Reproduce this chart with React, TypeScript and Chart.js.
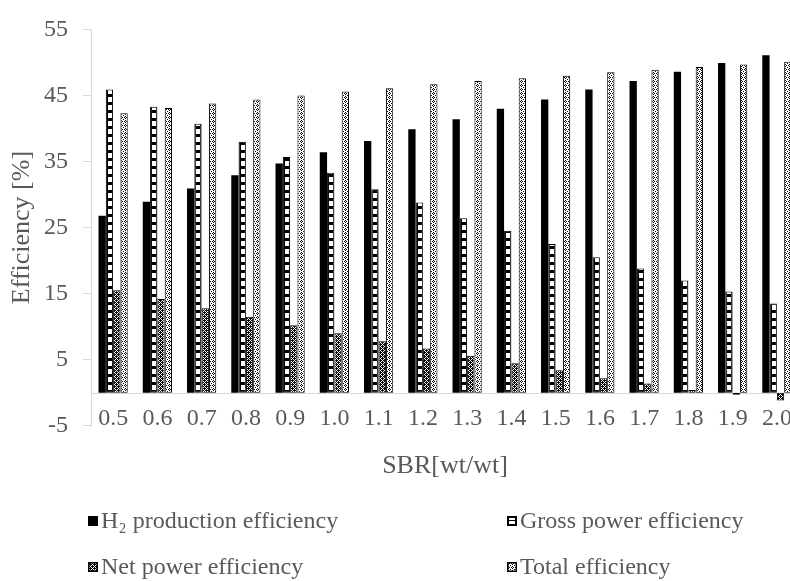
import React, { useEffect, useRef } from "react";
import { Chart, registerables } from "chart.js";

Chart.register(...registerables);

const categories = ["0.5", "0.6", "0.7", "0.8", "0.9", "1.0", "1.1", "1.2", "1.3", "1.4", "1.5", "1.6", "1.7", "1.8", "1.9", "2.0"];
const h2Production = [26.8, 28.9, 30.9, 32.9, 34.7, 36.4, 38.1, 39.9, 41.4, 43.0, 44.4, 45.9, 47.2, 48.6, 49.9, 51.1];
const grossPower = [45.9, 43.3, 40.7, 38.0, 35.7, 33.3, 30.8, 28.8, 26.4, 24.5, 22.5, 20.5, 18.8, 17.0, 15.3, 13.5];
const netPower = [15.5, 14.2, 12.8, 11.5, 10.2, 9.0, 7.8, 6.7, 5.6, 4.45, 3.4, 2.2, 1.4, 0.4, -0.3, -1.2];
const totalEff = [42.3, 43.1, 43.8, 44.4, 45.0, 45.6, 46.1, 46.7, 47.2, 47.6, 48.0, 48.5, 48.9, 49.3, 49.7, 50.1];
const seriesNames = ["H\u2082 production efficiency", "Gross power efficiency", "Net power efficiency", "Total efficiency"];
const yMin = -5;
const yMax = 55;
const yStep = 10;
const xTitle = "SBR[wt/wt]";
const yTitle = "Efficiency [%]";

const FONT = "'Liberation Serif', 'Times New Roman', serif";
const TEXT = "#595959";
const AXIS = "#d9d9d9";
const CAT_PCT = 0.66;

function makeTile(w: number, h: number, rows: string[] | null, draw?: (g: CanvasRenderingContext2D) => void) {
  const c = document.createElement("canvas");
  c.width = w;
  c.height = h;
  const g = c.getContext("2d")!;
  g.fillStyle = "#fff";
  g.fillRect(0, 0, w, h);
  if (rows) {
    g.fillStyle = "#000";
    rows.forEach((r, y) => {
      for (let x = 0; x < r.length; x++) if (r[x] === "X") g.fillRect(x, y, 1, 1);
    });
  }
  if (draw) draw(g);
  return c;
}

export default function App() {
  const ref = useRef<HTMLCanvasElement | null>(null);
  useEffect(() => {
    const canvas = ref.current!;
    const ctx = canvas.getContext("2d")!;
    const grossTile = makeTile(40, 8, null, (g) => {
      g.fillStyle = "#000";
      g.fillRect(0, 0, 40, 8);
      g.fillStyle = "#fff";
      g.fillRect(2, 1, 4, 5);
    });
    const grossPat = ctx.createPattern(grossTile, "repeat-y")!;
    const netPat = ctx.createPattern(makeTile(4, 4, ["XX.X", "X.X.", ".XXX", "X.X."]), "repeat")!;
    const totalPat = ctx.createPattern(makeTile(4, 4, [".X..", "X.X.", ".X..", "...X"]), "repeat")!;
    const fills: any[] = ["#000", grossPat, netPat, totalPat];
    const values = [h2Production, grossPower, netPower, totalEff];

    const grossCache: Record<number, CanvasPattern> = {};
    const grossFill = (c: any) => {
      const chart = c.chart;
      const xs = chart.scales && chart.scales.x;
      if (!xs || c.dataIndex === undefined || !chart.chartArea) return grossPat;
      const center = xs.getPixelForValue(c.dataIndex);
      const catW = chart.chartArea.width / categories.length;
      const barW = (catW * CAT_PCT) / seriesNames.length;
      const left = center - (catW * CAT_PCT) / 2 + barW * c.datasetIndex;
      const key = c.dataIndex;
      if (!grossCache[key]) {
        const p = ctx.createPattern(grossTile, "repeat-y")!;
        p.setTransform(new DOMMatrix().translate(Math.round(left), 0));
        grossCache[key] = p;
      }
      return grossCache[key];
    };

    const zeroLine = {
      id: "zeroLine",
      beforeDatasetsDraw(chart: any) {
        const y = chart.scales.y.getPixelForValue(0);
        const { left, right } = chart.chartArea;
        const c = chart.ctx;
        c.save();
        c.strokeStyle = AXIS;
        c.lineWidth = 1;
        c.beginPath();
        c.moveTo(left, Math.round(y) + 0.5);
        c.lineTo(right, Math.round(y) + 0.5);
        c.stroke();
        c.restore();
      },
    };

    const legendFills: any[] = ["#000", ctx.createPattern(makeTile(10, 10, null, (g) => {
      g.fillStyle = "#000";
      g.fillRect(0, 0, 10, 10);
      g.fillStyle = "#fff";
      g.fillRect(2, 2, 6, 2);
      g.fillRect(2, 5, 6, 3);
    }), "no-repeat"), netPat, totalPat];

    const customLegend = {
      id: "customLegend",
      afterDraw(chart: any) {
        const c = chart.ctx;
        const cols = [88, 507];
        const rowsY = [521, 567];
        c.save();
        c.font = "24px " + FONT;
        c.textBaseline = "middle";
        c.textAlign = "left";
        seriesNames.forEach((name, i) => {
          const bx = cols[i % 2];
          const by = rowsY[Math.floor(i / 2)];
          c.save();
          c.translate(bx, by - 5);
          c.fillStyle = legendFills[i];
          c.fillRect(0, 0, 10, 10);
          if (i > 0) {
            c.strokeStyle = "#000";
            c.lineWidth = 1.5;
            c.strokeRect(0.75, 0.75, 8.5, 8.5);
          }
          c.restore();
          c.fillStyle = TEXT;
          c.fillText(name, bx + 13, by + 1);
        });
        c.restore();
      },
    };

    const chart = new Chart(canvas, {
      type: "bar",
      data: {
        labels: categories,
        datasets: seriesNames.map((name, i) => ({
          label: name,
          data: values[i],
          backgroundColor: i === 1 ? (grossFill as any) : fills[i],
          borderColor: "#000",
          borderWidth: i === 0 ? 0 : 1,
          borderSkipped: false,
          categoryPercentage: CAT_PCT,
          barPercentage: 1.0,
        })),
      },
      options: {
        animation: false,
        responsive: false,
        layout: { padding: { top: 20, left: 0, right: 1, bottom: 0 } },
        plugins: { legend: { display: false }, tooltip: { enabled: false } },
        scales: {
          x: {
            grid: { display: false, drawTicks: false },
            border: { display: false },
            ticks: { color: TEXT, font: { family: FONT, size: 24 }, mirror: true, padding: -7, maxRotation: 0, autoSkip: false },
            title: { display: true, text: xTitle, color: TEXT, font: { family: FONT, size: 26 }, padding: { top: 0, bottom: 99 } },
            afterFit: (s: any) => { s.height = 155.3; },
          },
          y: {
            min: yMin,
            max: yMax,
            grid: { drawOnChartArea: false, drawTicks: true, tickLength: 8, color: AXIS },
            border: { display: true, color: AXIS },
            ticks: { stepSize: yStep, color: TEXT, font: { family: FONT, size: 24 }, padding: 15 },
            title: { display: true, text: yTitle, color: TEXT, font: { family: FONT, size: 26 }, padding: { top: 7, bottom: 0 } },
            afterFit: (s: any) => { s.width = 91; },
          },
        },
      },
      plugins: [zeroLine, customLegend],
    });
    return () => chart.destroy();
  }, []);

  return (
    <div style={{ position: "fixed", left: 0, top: 0, width: 790, height: 581, overflow: "hidden", background: "#fff" }}>
      <canvas ref={ref} width={800} height={581} style={{ display: "block", width: 800, height: 581 }} />
    </div>
  );
}
